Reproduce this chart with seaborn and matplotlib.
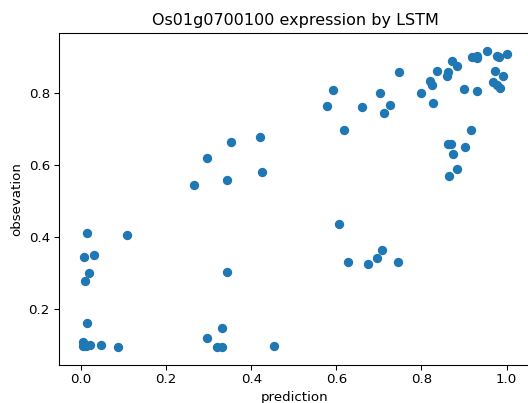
import matplotlib
matplotlib.use("Agg")
import matplotlib.pyplot as plt
import seaborn as sns
import pandas as pd

# LSTM predictions vs. observed expression for Os01g0700100
prediction = [
    0.014, 0.107, 0.007, 0.030, 0.018, 0.009, 0.014, 0.005, 0.004, 0.012, 0.020, 0.048, 0.088,
    0.266, 0.295, 0.344, 0.353, 0.420, 0.425, 0.344, 0.331, 0.295, 0.319, 0.331, 0.454,
    0.606, 0.627, 0.675, 0.695, 0.707, 0.746,
    0.592, 0.577, 0.617, 0.661, 0.703, 0.726, 0.711, 0.748, 0.799, 0.820, 0.824, 0.828,
    0.836, 0.859, 0.863, 0.871, 0.883, 0.899, 0.918, 0.931, 0.930, 0.931, 0.953, 0.978,
    0.983, 1.000, 0.973, 0.992, 0.969, 0.977, 0.985,
    0.869, 0.863, 0.916, 0.902, 0.875, 0.883, 0.865,
]
observation = [
    0.412, 0.406, 0.344, 0.349, 0.301, 0.279, 0.160, 0.107, 0.097, 0.097, 0.099, 0.099, 0.094,
    0.544, 0.619, 0.559, 0.664, 0.679, 0.581, 0.304, 0.146, 0.119, 0.094, 0.094, 0.096,
    0.437, 0.331, 0.324, 0.341, 0.364, 0.331,
    0.807, 0.764, 0.697, 0.762, 0.800, 0.768, 0.744, 0.857, 0.799, 0.832, 0.822, 0.773,
    0.861, 0.847, 0.859, 0.888, 0.876, 0.810, 0.899, 0.897, 0.904, 0.806, 0.918, 0.904,
    0.900, 0.908, 0.860, 0.846, 0.830, 0.822, 0.815,
    0.659, 0.659, 0.697, 0.649, 0.631, 0.590, 0.569,
]
x_ticks = [0.0, 0.2, 0.4, 0.6, 0.8, 1.0]
y_ticks = [0.2, 0.4, 0.6, 0.8]

df = pd.DataFrame({"prediction": prediction, "obsevation": observation})

fig = plt.figure(figsize=(5.5, 403 / 96), dpi=96)
# axes run to the right edge of the canvas
ax = fig.add_axes([0.1123, 0.0943, 0.8927, 0.8246])

sns.scatterplot(data=df, x="prediction", y="obsevation", ax=ax,
                color="#1f77b4", s=36, edgecolor="face", linewidth=1)

ax.set_xlim(-0.051, 1.0565)
ax.set_ylim(0.0444, 0.9675)
ax.set_xticks(x_ticks)
ax.set_yticks(y_ticks)
ax.tick_params(axis="x", pad=2.5)
ax.set_xlabel("prediction", labelpad=3.5)
ax.set_ylabel("obsevation")
ax.set_title("Os01g0700100 expression by LSTM")

fig.savefig("out.png", dpi=96)
